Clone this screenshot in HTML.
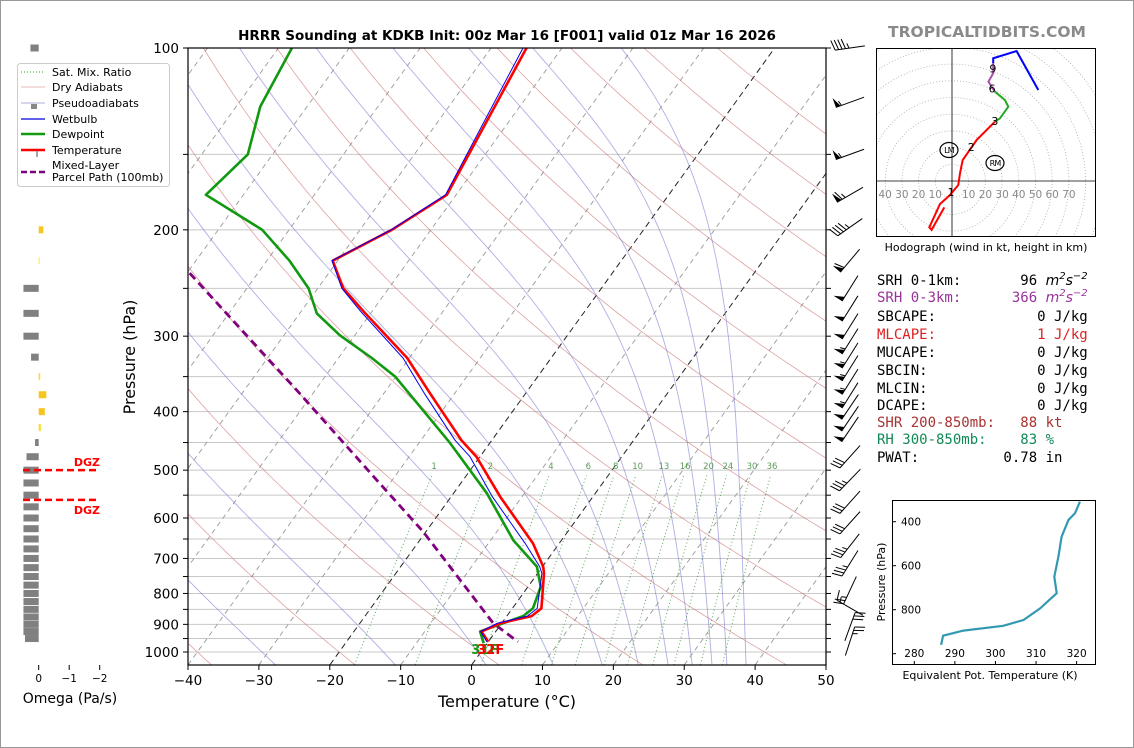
<!DOCTYPE html>
<html><head><meta charset="utf-8">
<style>
html,body{margin:0;padding:0;background:#fff;}
#wrap{position:relative;width:1134px;height:748px;overflow:hidden;font-family:"DejaVu Sans","Liberation Sans",sans-serif;}
.stat{position:absolute;left:877px;font-family:"DejaVu Sans Mono","Liberation Mono",monospace;font-size:14px;white-space:pre;line-height:16px;}
sup{font-size:10px;vertical-align:6px;line-height:0;}
.it{font-family:"DejaVu Sans","Liberation Sans",sans-serif;font-style:italic;}
</style></head>
<body>
<div id="wrap">
<svg id="svg" width="1134" height="748" xmlns="http://www.w3.org/2000/svg" font-family="DejaVu Sans, Liberation Sans, sans-serif">
<rect x="0.5" y="0.5" width="1133" height="747" fill="#fff" stroke="#999"/>
<defs>
<clipPath id="mainclip"><rect x="188" y="48" width="638" height="617"/></clipPath>
<clipPath id="hodoclip"><rect x="876" y="48" width="220" height="189"/></clipPath>
<clipPath id="teclip"><rect x="892" y="500" width="204" height="165"/></clipPath>
</defs>
<g id="bg" clip-path="url(#mainclip)"></g>
<g id="profiles" clip-path="url(#mainclip)"></g>
<g id="axes"></g>
<g id="barbs"></g>
<g id="omega"></g>
<g id="hodo"></g>
<g id="te"></g>
<text x="507" y="40" text-anchor="middle" font-size="13.5" font-weight="bold">HRRR Sounding at KDKB Init: 00z Mar 16 [F001] valid 01z Mar 16 2026</text>
<text x="987" y="37" text-anchor="middle" font-size="15.5" font-weight="bold" fill="#8a8a8a">TROPICALTIDBITS.COM</text>
<text x="507" y="707" text-anchor="middle" font-size="16">Temperature (°C)</text>
<text transform="translate(135,357) rotate(-90)" text-anchor="middle" font-size="16">Pressure (hPa)</text>
<text x="986" y="251" text-anchor="middle" font-size="11">Hodograph (wind in kt, height in km)</text>
<text x="990" y="679" text-anchor="middle" font-size="11">Equivalent Pot. Temperature (K)</text>
<text transform="translate(885,582) rotate(-90)" text-anchor="middle" font-size="11">Pressure (hPa)</text>
<text x="70" y="703" text-anchor="middle" font-size="14">Omega (Pa/s)</text>
<g>
<rect x="17.5" y="63.5" width="152" height="123" rx="3" fill="#fff" stroke="#ccc"/>
<line x1="21" y1="72" x2="45" y2="72" stroke="#2a9a2a" stroke-dasharray="1,2"/>
<text x="52" y="76" font-size="11">Sat. Mix. Ratio</text>
<line x1="21" y1="87" x2="45" y2="87" stroke="#d88" stroke-opacity="0.6"/>
<text x="52" y="91" font-size="11">Dry Adiabats</text>
<line x1="21" y1="103" x2="45" y2="103" stroke="#88c" stroke-opacity="0.7"/>
<rect x="31" y="104" width="6" height="5" fill="#888"/>
<text x="52" y="107" font-size="11">Pseudoadiabats</text>
<line x1="21" y1="119" x2="45" y2="119" stroke="#0000dd" stroke-width="1.3"/>
<text x="52" y="123" font-size="11">Wetbulb</text>
<line x1="21" y1="134" x2="45" y2="134" stroke="#119911" stroke-width="2.5"/>
<text x="52" y="138" font-size="11">Dewpoint</text>
<line x1="21" y1="150" x2="45" y2="150" stroke="#ff0000" stroke-width="2.5"/>
<line x1="37" y1="151" x2="37" y2="157" stroke="#888" stroke-width="1.5"/>
<text x="52" y="154" font-size="11">Temperature</text>
<line x1="21" y1="172" x2="45" y2="172" stroke="#800080" stroke-width="2.5" stroke-dasharray="6,3"/>
<text x="52" y="169" font-size="11">Mixed-Layer</text>
<text x="52" y="181" font-size="11">Parcel Path (100mb)</text>
</g>
</svg>
<div class="stat" style="top:273px;color:#000">SRH 0-1km:       96 <span class="it">m<sup>2</sup>s<sup>−2</sup></span></div>
<div class="stat" style="top:290px;color:#993399">SRH 0-3km:      366 <span class="it">m<sup>2</sup>s<sup>−2</sup></span></div>
<div class="stat" style="top:309px;color:#000">SBCAPE:            0 J/kg</div>
<div class="stat" style="top:327px;color:#dd2222">MLCAPE:            1 J/kg</div>
<div class="stat" style="top:345px;color:#000">MUCAPE:            0 J/kg</div>
<div class="stat" style="top:363px;color:#000">SBCIN:             0 J/kg</div>
<div class="stat" style="top:381px;color:#000">MLCIN:             0 J/kg</div>
<div class="stat" style="top:398px;color:#000">DCAPE:             0 J/kg</div>
<div class="stat" style="top:415px;color:#a83232">SHR 200-850mb:   88 kt</div>
<div class="stat" style="top:432px;color:#118855">RH 300-850mb:    83 %</div>
<div class="stat" style="top:450px;color:#000">PWAT:          0.78 in</div>
</div>
<script>
const tempP = [100,175,200,225,250,273,326,373,446,475,553,661,722,741,847,872,896,925,962];
const tempT = [-55,-51.3,-55.5,-60.7,-56.4,-51.2,-40.3,-33.5,-24.3,-20.5,-13.1,-3.7,0.1,0.9,4.1,3.5,-0.2,-2.0,0.0];
const wetP  = [100,175,200,225,250,273,326,373,446,475,553,661,722,741,847,872,896,925,962];
const wetT  = [-55.5,-51.5,-55.6,-60.8,-56.6,-51.6,-40.9,-34.3,-25.2,-21.4,-14.2,-4.8,-0.4,0.6,3.5,2.9,-0.6,-2.1,-0.2];
const dewP  = [100,125,150,175,200,225,250,275,299,326,350,451,546,653,722,780,847,872,925,967];
const dewT  = [-88.1,-86.6,-83.5,-85.3,-73.8,-66.8,-61.3,-57.6,-52.1,-45.3,-40.1,-25.6,-15.3,-6.8,-0.8,1.8,2.9,2.3,-2.2,-0.5];
const parcelP = [236,368,526,632,896,962];
const parcelT = [-79.6,-52.7,-31.4,-20.4,-1.2,4.2];
const isotherms = [-120,-110,-100,-90,-80,-70,-60,-50,-40,-30,-20,-10,0,10,20,30,40,50];
const dryThetaC = [-40,-20,0,20,40,60,80,100,120,140,160,180,200];
const moistStartC = [-27.7,-10.8,2.0,11.5,18.4,23.5,27.7,31.1,33.9,36.0,38.7];
const mixRatios = [1,2,4,6,8,10,13,16,20,24,30,36];
const mixLabels = ["1","2","4","6","8","10","13","16","20","24","30","36"];
const pressureGrid = [100,150,200,250,300,350,400,450,500,550,600,650,700,750,800,850,900,950,1000];
const pressureLabels = [100,200,300,400,500,600,700,800,900,1000];
const tempTicks = [-40,-30,-20,-10,0,10,20,30,40,50];
const barbP   = [100,123,150,175,198,225,250,270,289,306,323,339,357,376,393,411,428,475,519,565,611,667,713,790,845,908,960];
const barbDir = [262,250,250,240,235,220,212,212,212,212,212,212,212,212,214,214,214,222,224,222,222,218,212,205,300,20,18];
const barbSpd = [45,55,55,65,45,60,50,50,50,55,55,55,55,55,50,50,50,30,35,30,30,35,35,25,15,30,25];
const omegaP = [100,200,225,250,275,300,325,350,375,400,425,450,475,500,525,550,575,600,625,650,675,700,725,750,775,800,825,850,875,900,925,950];
const omegaV = [0.27,-0.15,0.0,0.5,0.5,0.5,0.25,-0.05,-0.25,-0.2,-0.07,0.12,0.4,0.5,0.5,0.5,0.5,0.5,0.5,0.5,0.5,0.5,0.5,0.5,0.5,0.5,0.5,0.5,0.5,0.5,0.5,0.45];
const omegaTicks = [0,-1,-2];
const dgzP = [500,560];
const hodoRedU = [-4.6,-12.2,-13.6,-7.2,-1.2,3.8,4.8,6.4,9.8,14.8,25.7];
const hodoRedV = [-15.8,-29.3,-27.7,-13.8,-8.4,-2.4,4.6,12.6,17.5,24.6,35.5];
const hodoGreenU = [25.7,28.7,33.7,31.7,25.7];
const hodoGreenV = [35.5,37.5,44.5,48.5,53.5];
const hodoPurpleU = [25.7,21.8,24.7,24.7];
const hodoPurpleV = [53.5,59.5,64.5,70.5];
const hodoBlueU = [24.7,24.7,38.7,51.7];
const hodoBlueV = [70.5,73.5,77.8,54.5];
const hodoHtLabels = ["1","2","3","6","9"];
const hodoHtU = [-0.6,11.5,25.7,24,24.5];
const hodoHtV = [-6.6,20.5,35.9,55.5,67.5];
const hodoRings = [10,20,30,40,50,60,70,80,90,100];
const thetaE = [320.8,319.6,318,316.3,315.5,314.5,315.1,311,306.9,301.9,292.1,287.1,286.6];
const thetaEP = [309,362,392,468,559,650,725,794,847,873,895,918,960];
const teXTicks = [280,290,300,310,320];
const teYTicks = [400,600,800,1000];

const NS='http://www.w3.org/2000/svg';
function yP(p){return 48+604*Math.log10(p/100);}
function xTP(T,p){return 188+(T+40)*7.089+0.721*(665-yP(p));}
function mk(tag,attrs,parent){const e=document.createElementNS(NS,tag);for(const k in attrs)e.setAttribute(k,attrs[k]);parent.appendChild(e);return e;}
const bg=document.getElementById('bg'), prof=document.getElementById('profiles'), ax=document.getElementById('axes');

pressureGrid.forEach(p=>{const y=yP(p);
 const l=mk('line',{x1:188,x2:826,y1:y,y2:y,stroke:'#c8c8c8','stroke-width':1},bg);
 
 });
isotherms.forEach(T=>{const hi=(T===0||T===-20);
 const l=mk('line',{x1:xTP(T,1050),y1:yP(1050),x2:xTP(T,100),y2:yP(100),stroke:hi?'#222':'#999','stroke-width':hi?1:0.9,'stroke-dasharray':hi?'6,4':'5,4'},bg);
 
 });
dryThetaC.forEach(th=>{let d='';for(let p=1050;p>=100;p-=10){const T=(th+273.15)*Math.pow(p/1000,0.2857)-273.15;d+=(d?'L':'M')+xTP(T,p).toFixed(1)+','+yP(p).toFixed(1);}
 const l=mk('path',{d:d,fill:'none',stroke:'#c86464','stroke-opacity':0.6,'stroke-width':0.8},bg);
 
 });
function dTdp(T,p){const es=6.112*Math.exp(17.67*(T-273.15)/(T-29.65));const rs=0.622*es/(p-es);const Lv=2.501e6;
 return (287*T+Lv*rs)/(1005+Lv*Lv*rs*0.622/(287*T*T))/p;}
moistStartC.forEach(t0=>{let T=t0+273.15,p=1050,d='M'+xTP(t0,p).toFixed(1)+','+yP(p).toFixed(1);const dp=-5;
 while(p>100){const k1=dTdp(T,p);const k2=dTdp(T+k1*dp,p+dp);T+=0.5*(k1+k2)*dp;p+=dp;d+='L'+xTP(T-273.15,p).toFixed(1)+','+yP(p).toFixed(1);}
 const l=mk('path',{d:d,fill:'none',stroke:'#7a7ad0','stroke-opacity':0.6,'stroke-width':0.9},bg);
 
 });
function tdFromW(w,p){const e=p*w/(0.622+w);const ln=Math.log(e/6.112);return 243.5*ln/(17.67-ln);}
mixRatios.forEach((w,i)=>{const ww=w/1000;let d='';for(let p=1050;p>=510;p-=10){d+=(d?'L':'M')+xTP(tdFromW(ww,p),p).toFixed(1)+','+yP(p).toFixed(1);}
 const l=mk('path',{d:d,fill:'none',stroke:'#2a8a2a','stroke-opacity':0.75,'stroke-width':1,'stroke-dasharray':'1,2.5'},bg);
 
 
 const t=mk('text',{x:xTP(tdFromW(ww,500),500),y:yP(500)-1,'text-anchor':'middle','font-size':8.5,fill:'#5a9a5a'},ax);
 t.textContent=mixLabels[i];
 
 });

function pathOf(P,T){return P.map((p,i)=>(i?'L':'M')+xTP(T[i],p).toFixed(1)+','+yP(p).toFixed(1)).join('');}
let e;
e=mk('path',{d:pathOf(parcelP,parcelT),fill:'none',stroke:'#800080','stroke-width':2.8,'stroke-dasharray':'8,5'},prof);


e=mk('path',{d:pathOf(dewP,dewT),fill:'none',stroke:'#119911','stroke-width':2.6,'stroke-linejoin':'round'},prof);


e=mk('path',{d:pathOf(tempP,tempT),fill:'none',stroke:'#ff0000','stroke-width':2.6,'stroke-linejoin':'round'},prof);


e=mk('path',{d:pathOf(wetP,wetT),fill:'none',stroke:'#0000ee','stroke-width':1,'stroke-linejoin':'round'},prof);


const sfT=tempT[tempT.length-1], sfP=tempP[tempP.length-1];
e=mk('text',{x:xTP(sfT,sfP)-17,y:654,'font-size':13,'font-weight':'bold',fill:'#119911'},ax);
e.textContent='31F';


e=mk('text',{x:xTP(sfT,sfP)-11,y:654,'font-size':13,'font-weight':'bold',fill:'#ff0000'},ax);
e.textContent='32F';



e=mk('rect',{x:188,y:48,width:638,height:617,fill:'none',stroke:'#000','stroke-width':1.2},ax);


pressureGrid.forEach(p=>{const y=yP(p);
 mk('line',{x1:183,x2:188,y1:y,y2:y,stroke:'#000'},ax);
 mk('line',{x1:826,x2:831,y1:y,y2:y,stroke:'#000'},ax);});
pressureLabels.forEach(p=>{const t=mk('text',{x:179,y:yP(p)+5,'text-anchor':'end','font-size':13.5},ax);
 t.textContent=p;
 
 });
tempTicks.forEach(T=>{const x=188+(T+40)*7.089;
 mk('line',{x1:x,x2:x,y1:665,y2:670,stroke:'#000'},ax);
 const t=mk('text',{x:x,y:685,'text-anchor':'middle','font-size':13.5},ax);
 t.textContent=(T<0?'\u2212':'')+Math.abs(T);
 
 });

const bG=document.getElementById('barbs');
barbP.forEach((p,i)=>{const cx=850,cy=yP(p),d=barbDir[i]*Math.PI/180;
 const ux=Math.sin(d),uy=-Math.cos(d),nx=-uy,ny=ux,L=30;
 const g=mk('g',{},bG);
 
 
 const x0=cx-ux*L/2,y0=cy-uy*L/2,x1=cx+ux*L/2,y1=cy+uy*L/2;
 mk('line',{x1:x0,y1:y0,x2:x1,y2:y1,stroke:'#000','stroke-width':1},g);
 let s=Math.round(barbSpd[i]/5)*5,pos=0;const fl=10,sp=3.5;
 while(s>=50){const ax1=x1-ux*pos,ay1=y1-uy*pos,ax2=x1-ux*(pos+5),ay2=y1-uy*(pos+5);
  mk('polygon',{points:`${ax1},${ay1} ${ax1+nx*fl},${ay1+ny*fl} ${ax2},${ay2}`,fill:'#000'},g);pos+=6;s-=50;}
 while(s>=10){const bx=x1-ux*pos,by=y1-uy*pos;mk('line',{x1:bx,y1:by,x2:bx+nx*fl+ux*3,y2:by+ny*fl+uy*3,stroke:'#000','stroke-width':1},g);pos+=sp;s-=10;}
 if(s>=5){if(pos===0)pos=sp;const bx=x1-ux*pos,by=y1-uy*pos;mk('line',{x1:bx,y1:by,x2:bx+nx*fl/2+ux*1.5,y2:by+ny*fl/2+uy*1.5,stroke:'#000','stroke-width':1},g);}
});

const oG=document.getElementById('omega');
function xOm(v){return 38.7-v*30.5;}
omegaP.forEach((p,i)=>{const v=omegaV[i],y=yP(p);const x=Math.min(xOm(0),xOm(v)),w=Math.max(Math.abs(xOm(v)-xOm(0)),0.8);
 const r=mk('rect',{x:x,y:y-3.5,width:w,height:7,fill:v>0?'#808080':(v<-0.1?'#f7c520':'#f4e020')},oG);
 
 });
dgzP.forEach((p,i)=>{const y=yP(p);
 const l=mk('line',{x1:23,x2:99,y1:y,y2:y,stroke:'#ff0000','stroke-width':2.5,'stroke-dasharray':'7,4'},oG);
 
 
 const t=mk('text',{x:100,y:i===0?y-4:y+14,'text-anchor':'end','font-size':11,'font-weight':'bold',fill:'#ff0000'},oG);
 t.textContent='DGZ';
 
 });
omegaTicks.forEach(v=>{const x=xOm(v);mk('line',{x1:x,x2:x,y1:665,y2:670,stroke:'#000'},oG);
 const t=mk('text',{x:x,y:682,'text-anchor':'middle','font-size':10.5},oG);
 t.textContent=v===0?'0':'\u2212'+Math.abs(v);
 
 });

const hG=document.getElementById('hodo');
const hcx=952,hcy=181,hk=1.67;
function hx(u){return hcx+u*hk;} function hy(v){return hcy-v*hk;}
const hc=mk('g',{'clip-path':'url(#hodoclip)'},hG);
hodoRings.forEach(r=>{const c=mk('circle',{cx:hcx,cy:hcy,r:r*hk,fill:'none',stroke:'#aaa','stroke-width':0.8,'stroke-dasharray':'1,2'},hc);
 
 });
mk('line',{x1:876,x2:1096,y1:hcy,y2:hcy,stroke:'#000','stroke-width':0.8},hc);
mk('line',{x1:hcx,x2:hcx,y1:48,y2:237,stroke:'#000','stroke-width':0.8},hc);
[10,20,30,40,50,60,70].forEach(r=>{const t=mk('text',{x:hx(r),y:hcy+17,'text-anchor':'middle','font-size':10.5,fill:'#888'},hc);t.textContent=r;
 
 });
[10,20,30,40].forEach(r=>{const t=mk('text',{x:hx(-r),y:hcy+17,'text-anchor':'middle','font-size':10.5,fill:'#888'},hc);t.textContent=r;
 
 });
function hpath(U,V){return U.map((u,i)=>(i?'L':'M')+hx(u).toFixed(1)+','+hy(V[i]).toFixed(1)).join('');}
[[hodoRedU,hodoRedV,'#ff0000','hodo-0-3km'],[hodoGreenU,hodoGreenV,'#22aa22','hodo-3-6km'],[hodoPurpleU,hodoPurpleV,'#aa55aa','hodo-6-9km'],[hodoBlueU,hodoBlueV,'#0000ff','hodo-9km-plus']].forEach(s=>{
 const p=mk('path',{d:hpath(s[0],s[1]),fill:'none',stroke:s[2],'stroke-width':2},hc);
 
 });
hodoHtLabels.forEach((l,i)=>{const t=mk('text',{x:hx(hodoHtU[i]),y:hy(hodoHtV[i])+4,'text-anchor':'middle','font-size':11},hc);t.textContent=l;
 
 });
[['LM',949,150,'hodo-left-mover'],['RM',995,163,'hodo-right-mover']].forEach(m=>{
 const g=mk('g',{},hc);
 
 
 mk('ellipse',{cx:m[1],cy:m[2],rx:9,ry:7.5,fill:'none',stroke:'#000','stroke-width':1.2},g);
 const t=mk('text',{x:m[1],y:m[2]+3,'text-anchor':'middle','font-size':8,'letter-spacing':'-0.8'},g);t.textContent=m[0];});
e=mk('rect',{x:876.5,y:48.5,width:219,height:188,fill:'none',stroke:'#000','stroke-width':1},hG);



const tG=document.getElementById('te');
function tx(th){return 914.3+(th-280)*4.058;} function ty(p){return 521.7+(p-400)*0.22;}
const tc=mk('g',{'clip-path':'url(#teclip)'},tG);
e=mk('path',{d:thetaE.map((t,i)=>(i?'L':'M')+tx(t).toFixed(1)+','+ty(thetaEP[i]).toFixed(1)).join(''),fill:'none',stroke:'#3399b3','stroke-width':2.2},tc);


e=mk('rect',{x:892.5,y:500.5,width:203,height:164,fill:'none',stroke:'#000','stroke-width':1},tG);


teXTicks.forEach(v=>{const x=tx(v);mk('line',{x1:x,x2:x,y1:665,y2:661,stroke:'#000'},tG);
 const t=mk('text',{x:x,y:657,'text-anchor':'middle','font-size':10.5},tG);t.textContent=v;
 
 });
teYTicks.forEach(v=>{const y=ty(v);mk('line',{x1:892,x2:896,y1:y,y2:y,stroke:'#000'},tG);
 if(v<1000){const t=mk('text',{x:901,y:y+4,'font-size':10.5},tG);t.textContent=v;
 
 }});
</script>
</body></html>
